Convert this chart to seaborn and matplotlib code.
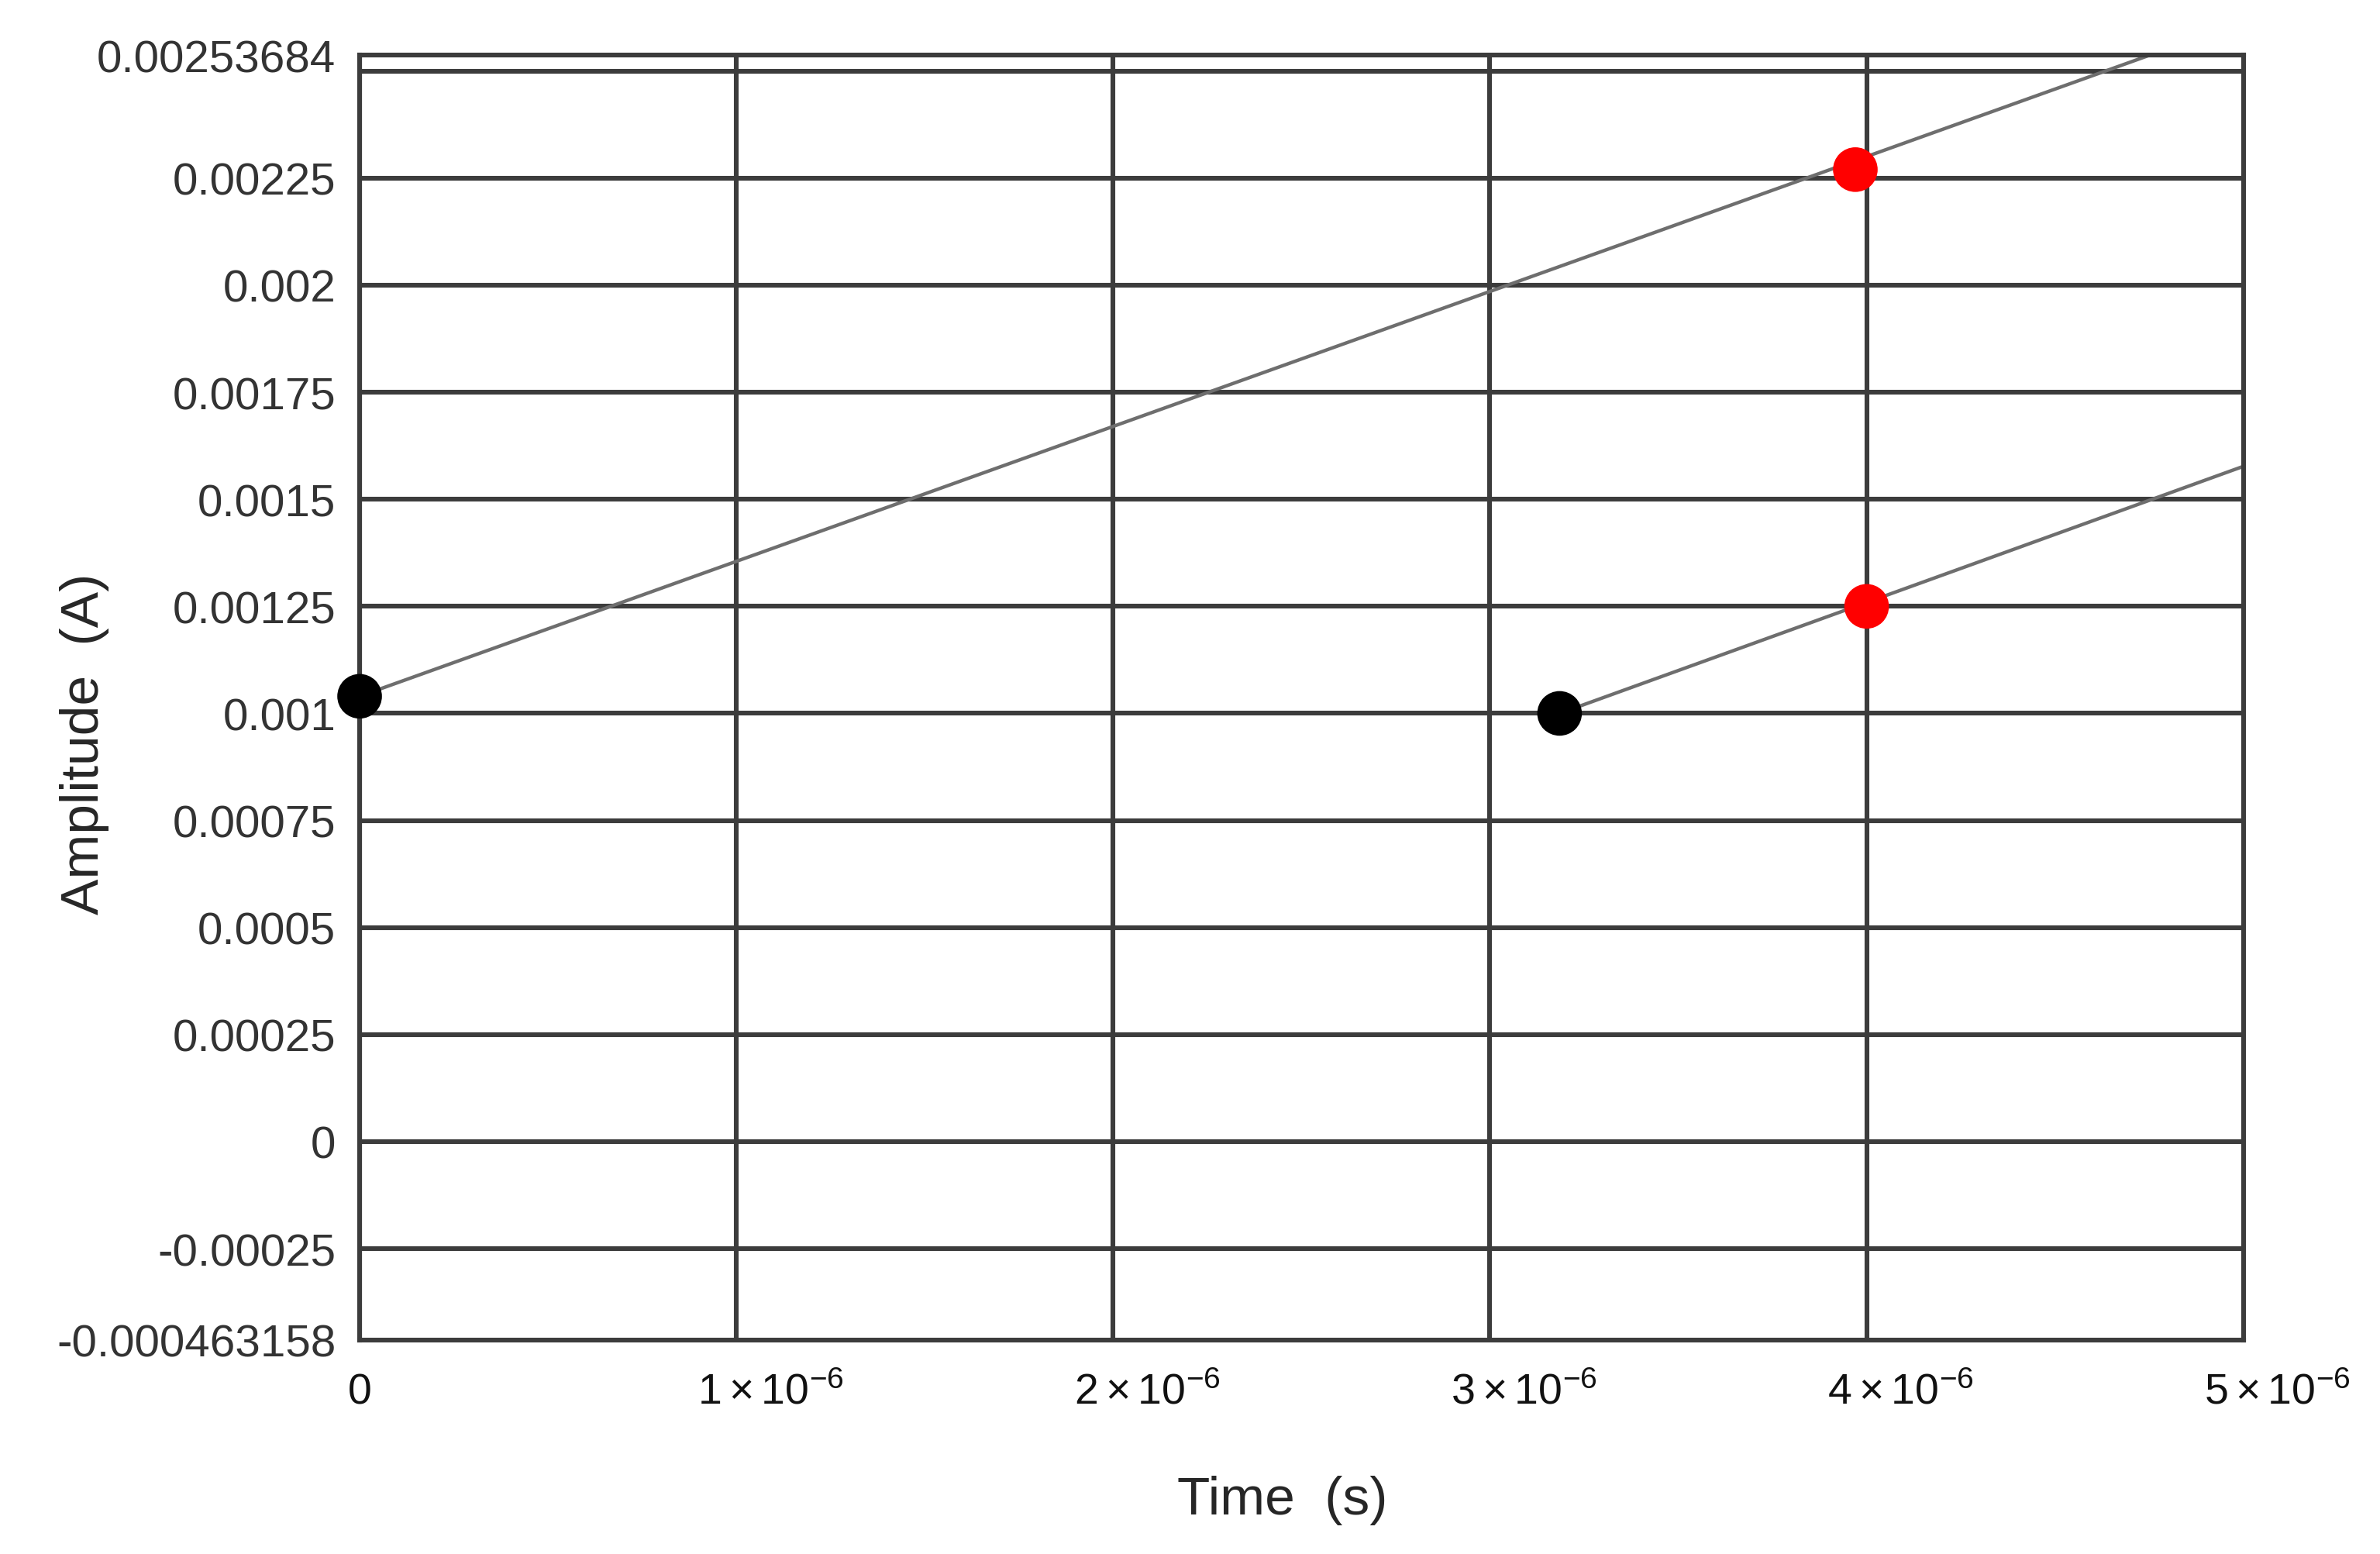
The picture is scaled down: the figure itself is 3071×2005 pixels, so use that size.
import numpy as np
import pandas as pd
import matplotlib
matplotlib.use('Agg')
import matplotlib.pyplot as plt
import matplotlib.transforms as mtransforms
import seaborn as sns

# ---- DATI ----
line1_t = [0.0, 4.75e-6]
line1_y = [0.00104, 0.00253684]
line2_t = [3.185e-6, 5.0e-6]
line2_y = [0.00100, 0.001577]

black_t = [0.0, 3.185e-6]
black_y = [0.00104, 0.00100]
red_t = [3.97e-6, 4.0e-6]
red_y = [0.00227, 0.00125]

y_ticks = [-0.000463158, -0.00025, 0, 0.00025, 0.0005, 0.00075, 0.001,
           0.00125, 0.0015, 0.00175, 0.002, 0.00225, 0.00253684]
y_tick_labels = ["-0.000463158", "-0.00025", "0", "0.00025", "0.0005", "0.00075", "0.001",
                 "0.00125", "0.0015", "0.00175", "0.002", "0.00225", "0.00253684"]
x_ticks = [0, 1e-6, 2e-6, 3e-6, 4e-6, 5e-6]
x_tick_labels = ["0", r"$1\times 10^{-6}$", r"$2\times 10^{-6}$", r"$3\times 10^{-6}$",
                 r"$4\times 10^{-6}$", r"$5\times 10^{-6}$"]
grid_y = [-0.00025, 0, 0.00025, 0.0005, 0.00075, 0.001, 0.00125, 0.0015,
          0.00175, 0.002, 0.00225, 0.0025]

lines = pd.concat([
    pd.DataFrame({'t': line1_t, 'y': line1_y, 'seg': 'a'}),
    pd.DataFrame({'t': line2_t, 'y': line2_y, 'seg': 'b'}),
])
points = pd.concat([
    pd.DataFrame({'t': black_t, 'y': black_y, 'c': 'black'}),
    pd.DataFrame({'t': red_t, 'y': red_y, 'c': 'red'}),
])

sns.set_style("white")
plt.rcParams['font.family'] = ['Liberation Sans', 'DejaVu Sans']
plt.rcParams['mathtext.fontset'] = 'custom'
plt.rcParams['mathtext.rm'] = 'Liberation Sans'
plt.rcParams['mathtext.it'] = 'Liberation Sans'

fig = plt.figure(figsize=(15.355, 10.03), dpi=200)
ax = fig.add_axes([0.1511, 0.1377, 0.7915, 0.8262])

# griglia
for g in grid_y:
    ax.axhline(g, color='#3c3c3c', linewidth=2.2, zorder=1)
for g in x_ticks:
    ax.axvline(g, color='#3c3c3c', linewidth=2.2, zorder=1)

sns.lineplot(data=lines, x='t', y='y', units='seg', estimator=None,
             color='#6e6e6e', linewidth=1.6, ax=ax, zorder=2)
sns.scatterplot(data=points, x='t', y='y', hue='c',
                palette={'black': 'black', 'red': '#ff0000'},
                s=430, edgecolor='none', legend=False, ax=ax, zorder=3, clip_on=False)

ax.set_xlim(0, 5e-6)
ax.set_ylim(-0.000463158, 0.00253684)
ax.set_yticks(y_ticks)
ax.set_yticklabels(y_tick_labels)
ax.set_xticks(x_ticks)
ax.set_xticklabels(x_tick_labels)
ax.tick_params(axis='both', which='major', length=9, width=2.2, color='#3c3c3c',
               direction='out')
ax.tick_params(axis='y', labelsize=21, labelcolor='#333333', pad=2)
ax.tick_params(axis='x', labelsize=20, labelcolor='#111111', pad=6)

# etichette x spostate a destra come nell'originale
shift = mtransforms.ScaledTranslation(0.22, 0, fig.dpi_scale_trans)
for lab in ax.get_xticklabels()[1:]:
    lab.set_transform(lab.get_transform() + shift)

for sp in ax.spines.values():
    sp.set_color('#3c3c3c')
    sp.set_linewidth(2.2)

ax.set_xlabel("Time  (s)", fontsize=25)
ax.set_ylabel("Amplitude  (A)", fontsize=25)
ax.xaxis.set_label_coords(0.49, -0.105)
ax.yaxis.set_label_coords(-0.133, 0.4645)

fig.savefig("out.png", dpi=200, facecolor='white')
